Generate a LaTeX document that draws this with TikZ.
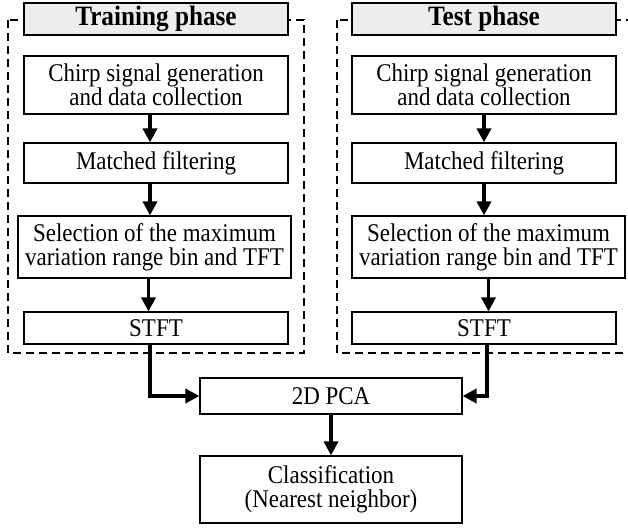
\documentclass[tikz,border=0pt]{standalone}
\usepackage{fontspec}
\setmainfont{Liberation Serif}[FakeStretch=0.9]
\usepackage{tikz}
\usetikzlibrary{positioning,calc,arrows.meta}

\tikzset{
	box/.style={draw,line width=1.2pt,minimum width=264pt,inner sep=0pt,align=center,font=\fontsize{25.5}{24}\selectfont},
	phase/.style={box,fill=black!7,minimum height=32pt,font=\fontsize{28}{24}\selectfont\bfseries},
	frame/.style={dash pattern=on 8pt off 5pt,line width=1.1pt},
	flow/.style={line width=3.5pt,-{Triangle[length=14pt,width=14pt]}}
}

\begin{document}
\begin{tikzpicture}[x=1pt,y=-1pt]
			\clip (0,0) rectangle (628,531);
			\useasboundingbox (0,0) rectangle (628,531);
			
			% khung nét đứt
			\draw[frame] (8,20) rectangle (304,353);
			\draw[frame] (337,20) rectangle (640,353);
			
			% giai đoạn huấn luyện
			\node[phase] (trainT) at (156,19) {Training phase};
			\node[box,minimum height=58pt] (trainA) at (156,85) {Chirp signal generation\\and data collection};
			\node[box,minimum height=40pt] (trainB) at (156,163) {Matched filtering};
			\node[box,minimum height=62pt,minimum width=273pt] (trainC) at (154.5,247) {Selection of the maximum\\variation range bin and TFT};
			\node[box,minimum height=32pt] (trainD) at (156,328) {STFT};
			
			% giai đoạn kiểm tra
			\node[phase] (testT) at (484,19) {Test phase};
			\node[box,minimum height=58pt] (testA) at (484,85) {Chirp signal generation\\and data collection};
			\node[box,minimum height=40pt] (testB) at (484,163) {Matched filtering};
			\node[box,minimum height=62pt,minimum width=273pt] (testC) at (488.5,247) {Selection of the maximum\\variation range bin and TFT};
			\node[box,minimum height=32pt] (testD) at (484,328) {STFT};
			
			% phần chung
			\node[box,minimum height=36pt,minimum width=262pt] (pca) at (331,396) {2D PCA};
			\node[box,minimum height=67pt,minimum width=262pt] (cls) at (331,489.5) {Classification\\(Nearest neighbor)};
			
			% mũi tên
			\foreach \a/\b in {trainA/trainB,trainB/trainC,trainC/trainD} {
				\draw[flow] ([xshift=-6pt]\a.south) -- ([xshift=-6pt]\a.south |- \b.north);
			}
			\foreach \a/\b in {testA/testB,testB/testC,testC/testD} {
				\draw[flow] (\a.south) -- (\a.south |- \b.north);
			}
			\draw[flow] ([xshift=-6pt]trainD.south) |- (pca.west);
			\draw[flow] ([xshift=3pt]testD.south) |- (pca.east);
			\draw[flow] (pca.south) -- (cls.north);
		\end{tikzpicture}
\end{document}
